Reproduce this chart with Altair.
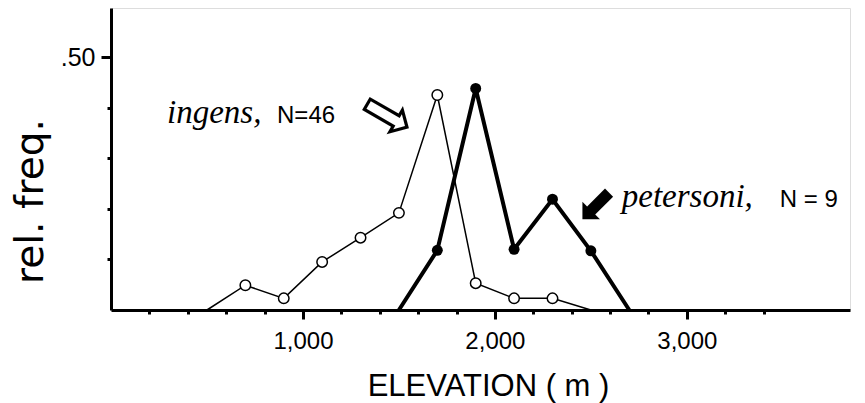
import altair as alt
import pandas as pd

# ---- data ----
ingens_elev = [500, 700, 900, 1100, 1300, 1500, 1700, 1900, 2100, 2300, 2500]
ingens_freq = [0.0, 0.049, 0.023, 0.095, 0.143, 0.192, 0.425, 0.053, 0.023, 0.023, 0.0]

peter_elev = [1500, 1700, 1900, 2100, 2300, 2500, 2700]
peter_freq = [0.0, 0.118, 0.438, 0.120, 0.219, 0.117, 0.0]

x_ticks = list(range(200, 3600, 200))
y_ticks = [0.1, 0.2, 0.3, 0.4, 0.5]

# annotation labels (data units)
species_text = ["ingens,", "petersoni,"]
species_x = [292, 2661]
species_y = [0.370, 0.204]
n_text = ["N=46", "N = 9"]
n_x = [865, 3484]
n_y = [0.370, 0.204]
arrow_glyph = ["\u21E8", "\u27A1"]
arrow_x = [1440, 2526]
arrow_y = [0.382, 0.2075]
arrow_angle = [30, 135]
arrow_size = [66, 50]

ing = pd.DataFrame({"elev": ingens_elev, "freq": ingens_freq})
pet = pd.DataFrame({"elev": peter_elev, "freq": peter_freq})
sp = pd.DataFrame({"t": species_text, "x": species_x, "y": species_y})
nn = pd.DataFrame({"t": n_text, "x": n_x, "y": n_y})
ar = pd.DataFrame({"t": arrow_glyph, "x": arrow_x, "y": arrow_y, "a": arrow_angle, "s": arrow_size})

LABEL_FONT = "Liberation Sans"

xscale = alt.Scale(domain=[0, 3850], nice=False, zero=True)
yscale = alt.Scale(domain=[0, 0.597], nice=False, zero=True)

xaxis = alt.Axis(
    values=x_ticks,
    labelExpr="datum.value % 1000 === 0 ? format(datum.value, ',') : ''",
    tickSize={"condition": {"test": "datum.value % 1000 === 0", "value": 9}, "value": 4},
    tickWidth=3, tickColor="black",
    domainWidth=3, domainColor="black",
    labelFont=LABEL_FONT, labelFontSize=24, labelColor="black",
    labelPadding=10, labelOverlap=False, labelFlush=False,
    title="ELEVATION ( m )", titleFont=LABEL_FONT, titleFontSize=31,
    titleFontWeight="normal", titleColor="black",
    titleX=377, titleY=85, titleBaseline="alphabetic", titleAlign="center",
    grid=False,
)
yaxis = alt.Axis(
    values=y_ticks,
    labelExpr="datum.value > 0.45 ? '.50' : ''",
    tickSize={"condition": {"test": "datum.value > 0.45", "value": 10}, "value": 4},
    tickWidth=3, tickColor="black",
    domainWidth=3, domainColor="black",
    labelFont=LABEL_FONT, labelFontSize=25, labelColor="black",
    labelPadding=6, labelOverlap=False, labelFlush=False,
    title="rel. freq.", titleFont="DejaVu Sans", titleFontSize=39,
    titleFontWeight="normal", titleColor="black",
    titleAngle=270, titleX=-69, titleY=193, titleBaseline="alphabetic", titleAlign="center",
    grid=False,
)

X = alt.X("elev:Q", scale=xscale, axis=xaxis)
Y = alt.Y("freq:Q", scale=yscale, axis=yaxis)

pet_line = alt.Chart(pet).mark_line(color="black", strokeWidth=4).encode(x=X, y=Y)
ing_line = alt.Chart(ing).mark_line(color="black", strokeWidth=1.5).encode(x=X, y=Y)
pet_pts = alt.Chart(pet).transform_filter("datum.freq > 0").mark_point(
    shape="circle", filled=True, color="black", size=120, opacity=1
).encode(x=X, y=Y)
ing_pts = alt.Chart(ing).transform_filter("datum.freq > 0").mark_point(
    shape="circle", filled=True, fill="white", stroke="black", strokeWidth=1.5, size=110, opacity=1
).encode(x=X, y=Y)

sp_text = alt.Chart(sp).mark_text(
    font="Liberation Serif", fontStyle="italic", fontSize=33, align="left",
    baseline="alphabetic", color="black"
).encode(x=alt.X("x:Q", scale=xscale), y=alt.Y("y:Q", scale=yscale), text="t:N")
n_txt = alt.Chart(nn).mark_text(
    font=LABEL_FONT, fontSize=24, align="left", baseline="alphabetic", color="black"
).encode(x=alt.X("x:Q", scale=xscale), y=alt.Y("y:Q", scale=yscale), text="t:N")
arrows = alt.Chart(ar).mark_text(
    font="DejaVu Sans", align="center", baseline="middle", color="black"
).encode(x=alt.X("x:Q", scale=xscale), y=alt.Y("y:Q", scale=yscale), text="t:N",
         angle=alt.Angle("a:Q", scale=None), size=alt.Size("s:Q", scale=None))

chart = alt.layer(pet_line, ing_line, pet_pts, ing_pts, sp_text, n_txt, arrows).properties(
    width=739, height=302,
    autosize=alt.AutoSizeParams(type="none"),
    padding={"left": 103, "top": 0, "right": 7, "bottom": 93},
).configure_view(stroke=None).configure(background="white")

chart.save("out.html", embed_options={"renderer": "svg", "actions": False})
